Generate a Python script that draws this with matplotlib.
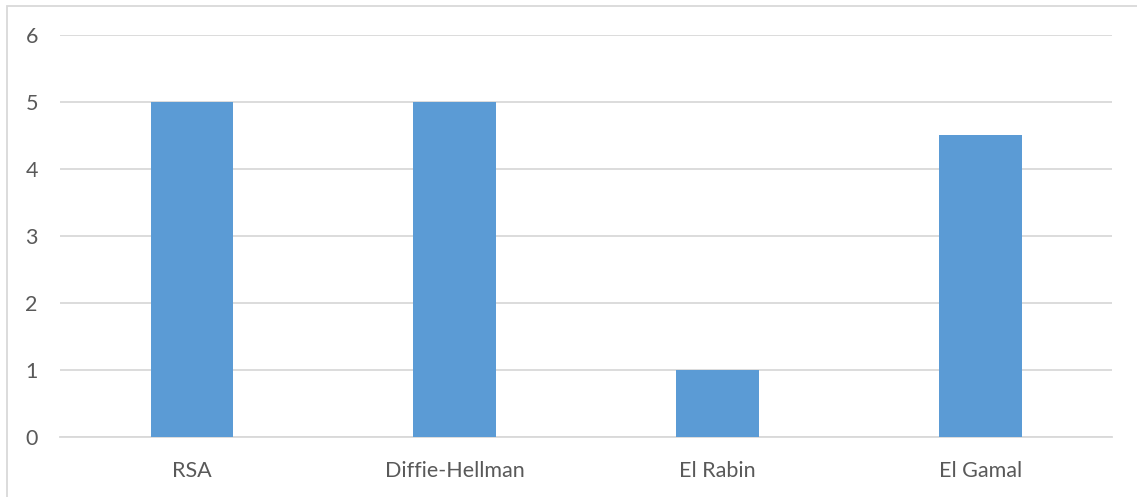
import matplotlib.pyplot as plt
from matplotlib.patches import Rectangle

# Key-exchange / public-key algorithms and their scores
algorithms = ["RSA", "Diffie-Hellman", "El Rabin", "El Gamal"]
scores = [5, 5, 1, 4.5]
y_ticks = [0, 1, 2, 3, 4, 5, 6]

bar_color = "#5B9BD5"
grid_color = "#D9D9D9"
text_color = "#595959"

plt.rcParams['font.family'] = ['Lato', 'DejaVu Sans']

fig = plt.figure(figsize=(11.37, 4.97), dpi=100)
ax = fig.add_axes([0.0528, 0.1207, 0.9252, 0.8089])

x = range(len(algorithms))
ax.bar(x, scores, width=0.312, color=bar_color, zorder=3)

ax.set_xlim(-0.5, len(algorithms) - 0.5)
ax.set_ylim(0, 6)
ax.set_yticks(y_ticks)
ax.set_xticks(list(x))
ax.set_xticklabels(algorithms)
ax.yaxis.grid(True, color=grid_color, linewidth=1.3, zorder=0)
ax.tick_params(axis='both', length=0, labelsize=15.5, labelcolor=text_color)
ax.tick_params(axis='y', pad=16)
ax.tick_params(axis='x', pad=17)
for side in ['top', 'right', 'left']:
    ax.spines[side].set_visible(False)
ax.spines['bottom'].set_color(grid_color)
ax.spines['bottom'].set_linewidth(1.3)

# chart frame (right/bottom edges run off the canvas)
fig.patches.append(Rectangle((7 / 1137, -0.1), 1.2, 1 - 6 / 497 + 0.1,
                             transform=fig.transFigure, fill=False,
                             edgecolor=grid_color, linewidth=1.3))

fig.savefig("out.png", dpi=100)
